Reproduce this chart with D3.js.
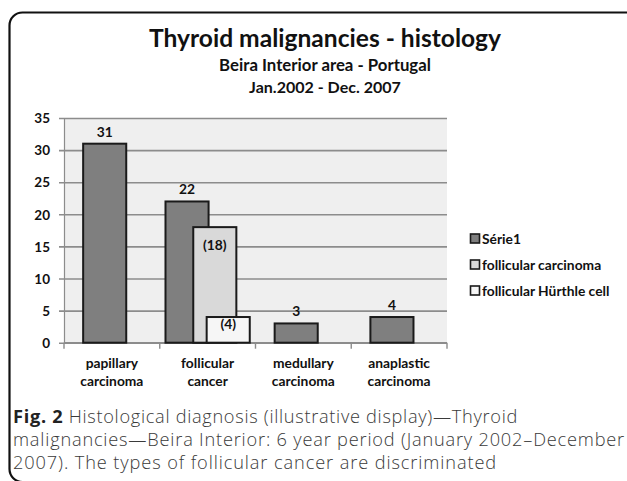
<!DOCTYPE html>
<html>
<head>
<meta charset="utf-8">
<script src="https://cdn.jsdelivr.net/npm/d3@7"></script>
<style>
  html, body { margin: 0; padding: 0; background: #ffffff; }
  svg { display: block; }
</style>
</head>
<body>
<script>
// ---- data ----
const categories = [["papillary", "carcinoma"], ["follicular", "cancer"], ["medullary", "carcinoma"], ["anaplastic", "carcinoma"]];
const seriesNames = ["Série1", "follicular carcinoma", "follicular Hürthle cell"];
const serie1 = [31, 22, 3, 4];
const follicularCarcinoma = [null, 18, null, null];
const follicularHurthle = [null, 4, null, null];
const yTicks = [0, 5, 10, 15, 20, 25, 30, 35];
const titleLines = ["Thyroid malignancies - histology", "Beira Interior area - Portugal", "Jan.2002 - Dec. 2007"];
const captionBold = "Fig. 2";
const captionLines = [
  " Histological diagnosis (illustrative display)\u2014Thyroid",
  "malignancies\u2014Beira Interior: 6 year period (January 2002\u2013December",
  "2007). The types of follicular cancer are discriminated"
];

// ---- layout / style ----
const W = 627, H = 481;
const plot = { left: 64, right: 447, top: 118, bottom: 342.7 };
const fills = ["#7f7f7f", "#d9d9d9", "#f6f6f6"];
const clusterOffset = [0.06, 0.35, 0.49];   // fraction of band, when several series in band
const singleOffset = 0.2;
const barFrac = 0.45;
const chartFont = "Lato, 'DejaVu Sans', sans-serif";
const captionFont = "'Open Sans', 'Noto Sans', sans-serif";

const svg = d3.select("body").append("svg").attr("width", W).attr("height", H);

// outer rounded frame
svg.append("rect")
  .attr("x", 9.5).attr("y", 12.5).attr("width", 640).attr("height", 469.5)
  .attr("rx", 13).attr("ry", 13)
  .attr("fill", "none").attr("stroke", "#111").attr("stroke-width", 2.2);

function fitText(sel, target) {
  const fs = parseFloat(sel.attr("font-size"));
  const w = sel.node().getComputedTextLength();
  sel.attr("font-size", (fs * target / w).toFixed(2));
}
function fitSpacing(sel, target) {
  const w = sel.node().getComputedTextLength();
  const n = sel.text().length;
  sel.attr("letter-spacing", ((target - w) / n).toFixed(3));
}

// titles
const tTargets = [352, 212, 152];
const tBase = [47, 71, 93];
const tSizes = [25, 15, 15];
titleLines.forEach((t, i) => {
  const s = svg.append("text")
    .attr("x", 325).attr("y", tBase[i]).attr("text-anchor", "middle")
    .attr("font-family", chartFont).attr("font-weight", 700)
    .attr("font-size", tSizes[i]).attr("fill", "#111").text(t);
  fitText(s, tTargets[i]);
});

// scales
const x = d3.scaleBand().domain(d3.range(categories.length)).range([plot.left, plot.right]).padding(0);
const y = d3.scaleLinear().domain([0, 35]).range([plot.bottom, plot.top]);
const bw = x.bandwidth();

// plot background
svg.append("rect")
  .attr("x", plot.left).attr("y", plot.top)
  .attr("width", plot.right - plot.left).attr("height", plot.bottom - plot.top)
  .attr("fill", "#efefef");

// gridlines + y axis
const yAxis = d3.axisLeft(y).tickValues(yTicks).tickSize(-(plot.right - plot.left)).tickPadding(14).tickFormat(d3.format("d"));
const gy = svg.append("g").attr("transform", `translate(${plot.left},0)`).call(yAxis);
gy.select(".domain").attr("stroke", "#8c8c8c").attr("stroke-width", 1.2);
gy.selectAll(".tick line").attr("stroke", "#8c8c8c").attr("stroke-width", 1.6).attr("x1", -5);
gy.selectAll(".tick text").attr("font-family", chartFont).attr("font-weight", 700)
  .attr("font-size", 13.5).attr("fill", "#111").attr("x", -14).attr("dy", "0.35em");

// x axis
svg.append("line").attr("x1", plot.left).attr("x2", plot.right).attr("y1", plot.bottom).attr("y2", plot.bottom)
  .attr("stroke", "#8c8c8c").attr("stroke-width", 1.6);
const bounds = d3.range(categories.length).map(i => x(i)).concat([plot.right]);
svg.selectAll(".xtick").data(bounds).enter().append("line")
  .attr("x1", d => d).attr("x2", d => d).attr("y1", plot.bottom).attr("y2", plot.bottom + 6)
  .attr("stroke", "#8c8c8c").attr("stroke-width", 1.4);

categories.forEach((c, i) => {
  const t = svg.append("text").attr("text-anchor", "middle")
    .attr("font-family", chartFont).attr("font-weight", 700).attr("font-size", 13.8).attr("fill", "#111");
  c.forEach((line, j) => {
    t.append("tspan").attr("x", x(i) + bw / 2).attr("y", 368 + j * 18).text(line);
  });
});

// bars
const allSeries = [serie1, follicularCarcinoma, follicularHurthle];
const nInBand = d3.range(categories.length).map(i => allSeries.filter(s => s[i] != null).length);
function barX(si, ci) {
  const off = nInBand[ci] > 1 ? clusterOffset[si] : singleOffset;
  return x(ci) + off * bw;
}
allSeries.forEach((vals, si) => {
  const data = vals.map((v, ci) => ({ v, ci })).filter(d => d.v != null);
  svg.append("g").selectAll("rect").data(data).enter().append("rect")
    .attr("x", d => barX(si, d.ci))
    .attr("y", d => y(d.v))
    .attr("width", barFrac * bw)
    .attr("height", d => y(0) - y(d.v))
    .attr("fill", fills[si])
    .attr("stroke", "#1a1a1a").attr("stroke-width", 2);
});

// value labels
const labelStyle = sel => sel.attr("text-anchor", "middle").attr("font-family", chartFont)
  .attr("font-weight", 700).attr("font-size", 13.8).attr("fill", "#111");
serie1.forEach((v, ci) => {
  svg.append("text").call(labelStyle)
    .attr("x", barX(0, ci) + barFrac * bw / 2).attr("y", y(v) - 7).text(v);
});
const innerDy = [null, 23, 12];
[follicularCarcinoma, follicularHurthle].forEach((vals, k) => {
  const si = k + 1;
  vals.forEach((v, ci) => {
    if (v == null) return;
    svg.append("text").call(labelStyle)
      .attr("x", barX(si, ci) + barFrac * bw / 2).attr("y", y(v) + innerDy[si]).text(`(${v})`);
  });
});

// legend
const legY = [239, 265, 291];
seriesNames.forEach((n, i) => {
  svg.append("rect").attr("x", 470.5).attr("y", legY[i] - 5).attr("width", 9).attr("height", 9)
    .attr("fill", fills[i]).attr("stroke", "#1a1a1a").attr("stroke-width", 1.6);
  svg.append("text").attr("x", 482).attr("y", legY[i]).attr("dy", "0.35em")
    .attr("font-family", chartFont).attr("font-weight", 700).attr("font-size", 13.8).attr("fill", "#111").text(n);
});

// caption
const capBase = [423, 446, 469];
const capTargets = [505, 612, 484];
captionLines.forEach((line, i) => {
  const t = svg.append("text").attr("x", 13).attr("y", capBase[i])
    .attr("font-family", captionFont).attr("font-weight", 300).attr("font-size", 18.2).attr("fill", "#3a3a3a");
  if (i === 0) t.append("tspan").attr("font-weight", 700).attr("fill", "#222").text(captionBold);
  t.append("tspan").text(line);
  fitSpacing(t, capTargets[i]);
});
</script>
</body>
</html>
